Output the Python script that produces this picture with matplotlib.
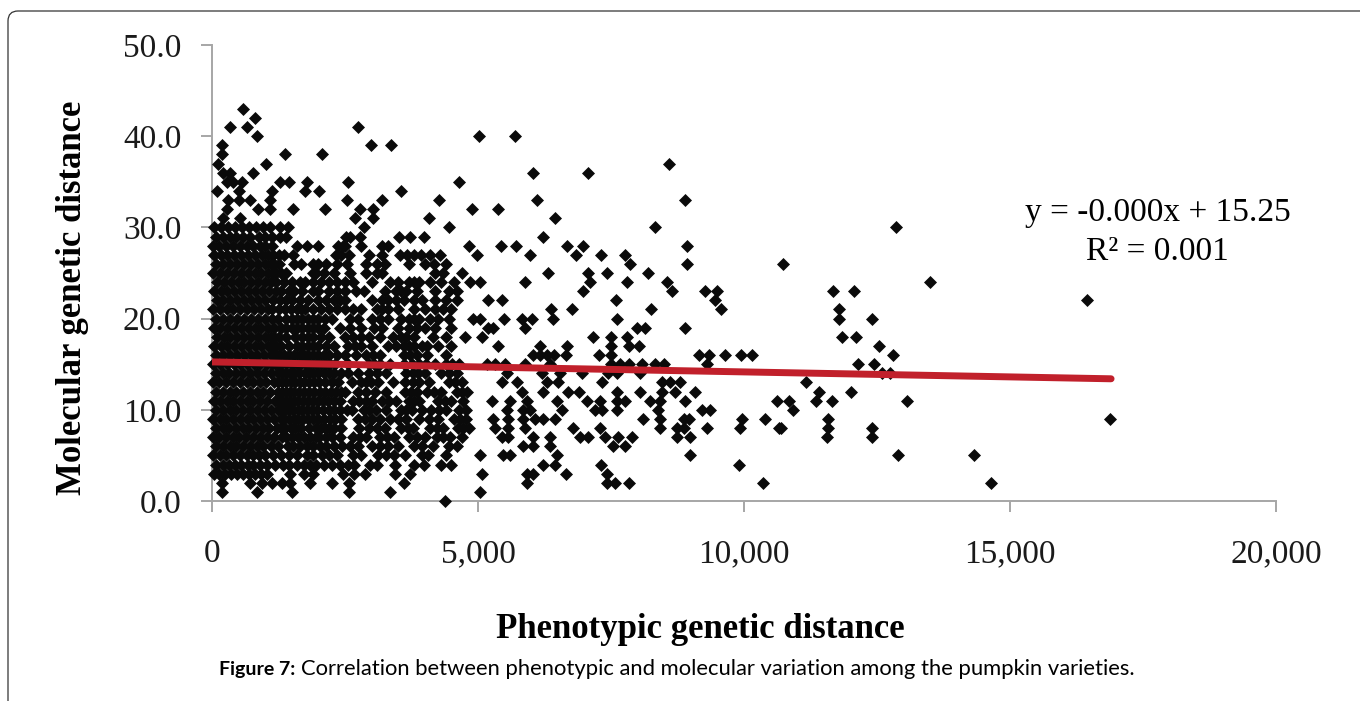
import matplotlib
matplotlib.use('Agg')
import matplotlib.pyplot as plt
from matplotlib.patches import FancyBboxPatch
from matplotlib.transforms import IdentityTransform

levels = list(range(0, 44))
x_by_level = [
    [4380],
    [180, 840, 1500, 2580, 3350, 5040],
    [180, 715, 935, 1120, 1310, 1470, 1840, 2250, 2580, 3600, 5916, 7420, 7577, 7830, 10355, 14647],
    [30, 140, 250, 360, 470, 580, 690, 800, 920, 1030, 1470, 1720, 1900, 2470, 2660, 2880, 3440, 3720, 5070, 5916, 6040, 6655, 7433],
    [80, 210, 320, 440, 550, 670, 780, 900, 1030, 1180, 1340, 1720, 1960, 2400, 2660, 2970, 3440, 3980, 4500, 6230, 6450, 7308, 9900],
    [20, 150, 270, 400, 520, 650, 770, 890, 1000, 1150, 1300, 1600, 1780, 2060, 2350, 2800, 3120, 3430, 3620, 4060, 4400, 5040, 5477, 5602, 6480, 8990, 12892, 14316],
    [70, 200, 330, 460, 590, 710, 840, 960, 1100, 1240, 1420, 1650, 1900, 2150, 2450, 2750, 3000, 3300, 3500, 3800, 4150, 4450, 4600, 5850, 6040, 6355, 7545, 7765],
    [25, 140, 260, 390, 510, 640, 770, 900, 1030, 1170, 1320, 1500, 1720, 1850, 2020, 2260, 2400, 2650, 2900, 3160, 3420, 3700, 4000, 4220, 4480, 4700, 5445, 5570, 6040, 6355, 6920, 7075, 7390, 7640, 7890, 8737, 8990, 11552, 12413],
    [80, 200, 320, 450, 580, 700, 830, 960, 1080, 1230, 1380, 1560, 1680, 1950, 2120, 2300, 2760, 2950, 3250, 3560, 3780, 4100, 4350, 4620, 4830, 5320, 5570, 5885, 6795, 7295, 8425, 8737, 8863, 9302, 9930, 10650, 10697, 11584, 12413],
    [20, 150, 270, 400, 530, 650, 780, 900, 1040, 1170, 1290, 1450, 1620, 1800, 2000, 2220, 2420, 2750, 3000, 3150, 3350, 3650, 3900, 4250, 4550, 4780, 5290, 5570, 5850, 6070, 6230, 6450, 8110, 8425, 8863, 8957, 9960, 10400, 11584, 16874],
    [70, 210, 330, 460, 590, 720, 840, 970, 1110, 1240, 1380, 1520, 1700, 1880, 2080, 2300, 2530, 2640, 2850, 3080, 3270, 3560, 3750, 3950, 4120, 4400, 4650, 5540, 5850, 5980, 6575, 7200, 7327, 7610, 8390, 9210, 9365, 10924],
    [30, 150, 280, 400, 530, 660, 780, 910, 1040, 1190, 1320, 1470, 1620, 1800, 2000, 2180, 2400, 2650, 2900, 3000, 3200, 3450, 3700, 3900, 4250, 4500, 4720, 5260, 5600, 5915, 6480, 7045, 7295, 7610, 7765, 8235, 8425, 8895, 10620, 10840, 11345, 11649, 13073],
    [80, 200, 330, 460, 580, 710, 840, 960, 1090, 1240, 1400, 1540, 1730, 1920, 2130, 2340, 2500, 2750, 3060, 3270, 3620, 3850, 4050, 4300, 4600, 4800, 5820, 6230, 6700, 6890, 7610, 8050, 8455, 8706, 9082, 11410, 12018],
    [20, 140, 270, 400, 520, 650, 780, 900, 1020, 1170, 1310, 1480, 1650, 1820, 2020, 2250, 2630, 2800, 2980, 3120, 3400, 3620, 3780, 4080, 4450, 4700, 5445, 5730, 6290, 6510, 7327, 8455, 8610, 8800, 11164],
    [70, 200, 320, 450, 590, 720, 850, 980, 1100, 1240, 1400, 1550, 1740, 1900, 2100, 2300, 2550, 2750, 3100, 3280, 3650, 3880, 4000, 4300, 4600, 5540, 6200, 6540, 6950, 7450, 7610, 8050, 12594, 12737],
    [20, 150, 280, 410, 530, 660, 790, 910, 1040, 1180, 1300, 1500, 1680, 1850, 2050, 2220, 2550, 2950, 3150, 3350, 3600, 3750, 4030, 4200, 4400, 4650, 5165, 5320, 5508, 5885, 6355, 7495, 7670, 7830, 8080, 8330, 8487, 9300, 12141, 12439],
    [80, 210, 340, 470, 600, 730, 850, 980, 1110, 1250, 1450, 1650, 1800, 2000, 2200, 2500, 2700, 2900, 3150, 3600, 3850, 4050, 4400, 6040, 6167, 6290, 6420, 6655, 7283, 7495, 9145, 9333, 9635, 9940, 10150, 12808],
    [30, 160, 290, 420, 550, 680, 800, 930, 1060, 1300, 1600, 1800, 2000, 2300, 2550, 2800, 3000, 3300, 3450, 3600, 3800, 3950, 4050, 4250, 4500, 5370, 6167, 6680, 7495, 7830, 8020, 12536],
    [90, 220, 340, 470, 600, 730, 860, 990, 1250, 1700, 1900, 2200, 2500, 2650, 2950, 3150, 3400, 3650, 3800, 4150, 4400, 4750, 5070, 7160, 7495, 7800, 11843, 12102],
    [30, 150, 280, 410, 540, 670, 800, 930, 1060, 1300, 1500, 1700, 1900, 2100, 2400, 2600, 2800, 3200, 3500, 3700, 4000, 4200, 4500, 5195, 5290, 5885, 7985, 8140, 8895],
    [80, 210, 340, 470, 600, 730, 860, 990, 1120, 1600, 1800, 2000, 2250, 2600, 2750, 3000, 3300, 3550, 3700, 3900, 4100, 4250, 4450, 4900, 5040, 5495, 5820, 6010, 6405, 7610, 11780, 12413],
    [20, 150, 280, 400, 530, 660, 790, 920, 1050, 1250, 1600, 1750, 1900, 2050, 2200, 2500, 2650, 2800, 3100, 3300, 3500, 3800, 4000, 4200, 4500, 6370, 6760, 8255, 9565, 11780],
    [90, 210, 340, 470, 600, 730, 860, 990, 1150, 1500, 2000, 2150, 2300, 2500, 3000, 3200, 3450, 3600, 3800, 3950, 4200, 4400, 4600, 5195, 5445, 7590, 9460, 16440],
    [30, 160, 290, 420, 550, 680, 810, 940, 1070, 1200, 1700, 2000, 2200, 2350, 2700, 2850, 3250, 3450, 3650, 3850, 4200, 4450, 4600, 6980, 8640, 9260, 9500, 11680, 12076],
    [90, 220, 350, 480, 610, 740, 870, 1000, 1200, 1350, 1500, 1650, 1900, 2200, 2350, 2500, 2650, 3000, 3350, 3500, 3700, 3900, 4100, 4300, 4550, 4850, 5040, 5880, 7110, 7800, 8550, 13494],
    [20, 150, 280, 410, 540, 670, 800, 930, 1060, 1150, 1300, 1900, 2100, 2300, 2600, 3100, 3200, 4200, 4350, 4700, 6310, 7060, 7430, 8200],
    [80, 210, 340, 470, 600, 730, 860, 990, 1100, 1250, 1550, 1680, 1900, 2150, 2350, 2540, 2900, 3100, 3250, 4000, 4180, 4400, 7860, 8930, 10730],
    [30, 160, 290, 420, 550, 680, 810, 940, 1140, 1530, 2340, 2580, 2950, 3200, 3530, 3660, 3790, 4100, 4290, 4980, 5980, 6840, 7310, 7770],
    [20, 130, 260, 390, 520, 650, 780, 900, 1600, 1780, 2000, 2360, 2470, 2800, 3200, 4840, 5430, 5710, 6680, 6980, 8930],
    [70, 200, 330, 460, 590, 720, 880, 1400, 2510, 2790, 3520, 3720, 3980, 6220],
    [40, 170, 300, 430, 560, 690, 820, 950, 1090, 1280, 1430, 2850, 4460, 8320, 12866],
    [210, 530, 2690, 3030, 4070, 6440],
    [280, 870, 1090, 1530, 2125, 2780, 3030, 4880, 5380],
    [310, 500, 715, 1090, 2530, 3190, 4260, 6100, 8890],
    [90, 500, 1120, 1750, 2020, 3550],
    [280, 400, 560, 1280, 1440, 1780, 2560, 4650],
    [210, 340, 780, 6040, 7060],
    [120, 1015, 8590],
    [195, 1370, 2070],
    [195, 2980, 3370],
    [840, 5016, 5690],
    [340, 650, 2740],
    [810],
    [590],
]

# points in the dense part that sit between the ones above, levels 4 to 29
dense_levels = list(range(4, 30))
dense_x_by_level = [
    [1450, 1600, 1850, 2100, 2250, 2550, 3100, 3800, 4300],
    [1450, 1900, 2200, 2650, 3280, 3950],
    [1520, 1780, 2030, 2300, 2600, 3150, 3950],
    [1400, 1620, 1950, 2140, 2780, 3290, 3850, 4350],
    [1300, 1480, 1820, 2050, 2200, 2420, 3100, 3680, 4220, 4720],
    [1360, 1540, 1710, 1900, 2110, 2320, 2870, 3500, 4080, 4670],
    [1310, 1450, 1610, 1790, 1980, 2190, 2410, 2960, 3650, 4270, 4780],
    [1250, 1390, 1540, 1710, 1900, 2090, 2290, 2770, 3320, 3800, 4380],
    [1320, 1470, 1630, 1820, 2030, 2240, 2420, 2900, 3740, 4180, 4700],
    [1240, 1390, 1560, 1730, 1920, 2130, 2370, 2890, 3900, 4570],
    [1320, 1470, 1640, 1820, 2000, 2200, 2420, 2950, 3770, 4450],
    [1120, 1240, 1400, 1590, 1770, 1950, 2140, 2320, 3050, 3900, 4520],
    [1180, 1350, 1550, 1720, 1900, 2100, 2350, 3030, 3720],
    [1120, 1200, 1450, 1700, 1900, 2150, 2680, 3700],
    [1100, 1170, 1400, 1560, 1800, 2050, 2800, 3550],
    [1170, 1400, 1600, 1800, 2000, 3050, 3850],
    [1240, 1400, 1500, 1700, 1900, 2120, 3150, 3800],
    [1130, 1370, 1480, 1680, 2350, 3200, 4350],
    [1280, 1400, 1650, 1800, 2400, 3300],
    [1300, 1450, 1550, 1900, 2500, 3550],
    [1100, 1750, 2050, 3800],
    [1200, 1400, 1950, 2900],
    [1170, 2000, 3700],
    [1050, 1250, 1350, 2430, 3930],
    [1000, 1130, 2500, 3300],
    [1000, 1130, 1280, 2600],
]

trend_x = [0, 16900]
trend_y = [15.25, 13.4]

x_ticks = [0, 5000, 10000, 15000, 20000]
x_tick_labels = ['0', '5,000', '10,000', '15,000', '20,000']
y_ticks = [0, 10, 20, 30, 40, 50]
y_tick_labels = ['0.0', '10.0', '20.0', '30.0', '40.0', '50.0']

W, H = 1360, 701
grey = '#a6a6a6'
serif = 'Liberation Serif'

fig = plt.figure(figsize=(W / 100, H / 100), dpi=100)
ax = fig.add_axes([212 / W, (H - 501) / H, (1276 - 212) / W, (501 - 45) / H])

xs = []
ys = []
for lev, row in list(zip(levels, x_by_level)) + list(zip(dense_levels, dense_x_by_level)):
    xs.extend(row)
    ys.extend([lev] * len(row))
ax.scatter(xs, ys, marker='D', s=44, color='#0a0a0a', linewidths=0, clip_on=False, zorder=3)
ax.plot(trend_x, trend_y, color='#c1202b', lw=5, solid_capstyle='round', zorder=4)

ax.set_xlim(0, 20000)
ax.set_ylim(0, 50)
for side in ['top', 'right']:
    ax.spines[side].set_visible(False)
for side in ['left', 'bottom']:
    ax.spines[side].set_color(grey)
    ax.spines[side].set_linewidth(1.4)
ax.set_xticks(x_ticks)
ax.set_xticklabels(x_tick_labels, family=serif, fontsize=24)
ax.set_yticks(y_ticks)
ax.set_yticklabels(y_tick_labels, family=serif, fontsize=24)
ax.tick_params(axis='x', color=grey, width=1.4, length=8, pad=19, labelcolor='#1a1a1a')
ax.tick_params(axis='y', color=grey, width=1.4, length=8, pad=14, labelcolor='#1a1a1a')

fig.text(73 / W, 1 - 298 / H, 'Molecular genetic distance', rotation=90, ha='center', va='center',
         family=serif, fontweight='bold', fontsize=25)
fig.text(700 / W, 1 - 629 / H, 'Phenotypic genetic distance', ha='center', va='center',
         family=serif, fontweight='bold', fontsize=25)
fig.text(1158 / W, 1 - 213 / H, 'y = -0.000x + 15.25', ha='center', va='center', family=serif, fontsize=24)
fig.text(1157 / W, 1 - 252 / H, 'R² = 0.001', ha='center', va='center', family=serif, fontsize=24)

# caption, bold lead-in then the regular part
fig.text(219 / W, 1 - 669 / H, 'Figure 7:', ha='left', va='center', family='Lato', fontweight='bold', fontsize=14)
fig.text(301 / W, 1 - 669 / H, 'Correlation between phenotypic and molecular variation among the pumpkin varieties.',
         ha='left', va='center', family='Lato', fontsize=15.87)

# page frame, open on the right and at the bottom
frame = FancyBboxPatch((8, -60), W + 60, H - 11 + 60, boxstyle='round,pad=0,rounding_size=10',
                       transform=IdentityTransform(), fc='none', ec='#333333', lw=0.9, clip_on=True)
fig.add_artist(frame)

fig.savefig('out.png', dpi=100)
plt.close(fig)
